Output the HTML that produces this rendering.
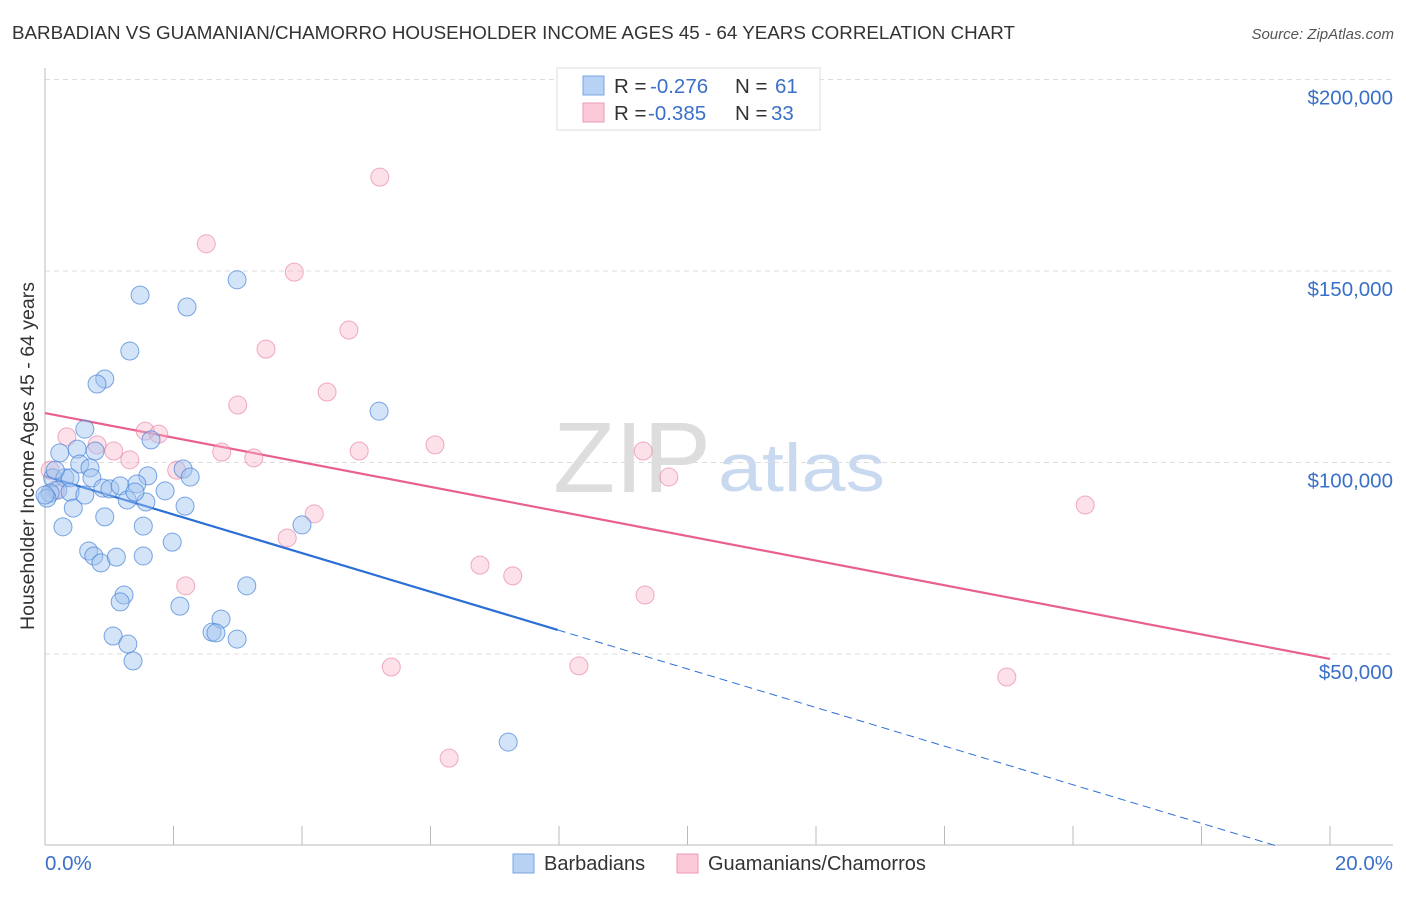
<!DOCTYPE html>
<html><head><meta charset="utf-8"><style>
body{margin:0;background:#fff;font-family:"Liberation Sans",sans-serif}
svg text{font-family:"Liberation Sans",sans-serif}
</style></head><body>
<svg id="c" width="1406" height="892">
<text x="12" y="39" font-size="18.8" fill="#333">BARBADIAN VS GUAMANIAN/CHAMORRO HOUSEHOLDER INCOME AGES 45 - 64 YEARS CORRELATION CHART</text>
<text x="1394" y="39" font-size="15" fill="#555" font-style="italic" text-anchor="end">Source: ZipAtlas.com</text>
<g><text x="553" y="492" font-size="100" fill="#ddd" font-family="Liberation Serif" textLength="158" lengthAdjust="spacingAndGlyphs">ZIP</text><text x="718" y="491" font-size="68" fill="#c9d9f0" textLength="167" lengthAdjust="spacingAndGlyphs">atlas</text></g>
<g id="grid"></g><g id="axes"></g><g id="trend"></g><g id="pts"></g>
<text x="34" y="456" font-size="19.5" fill="#333" text-anchor="middle" transform="rotate(-90 34 456)">Householder Income Ages 45 - 64 years</text>
<text x="45" y="870" font-size="20.5" fill="#3a70c8">0.0%</text>
<text x="1393" y="870" font-size="20.5" fill="#3a70c8" text-anchor="end">20.0%</text>
<g>
<rect x="557" y="68" width="263" height="62" fill="#fff" stroke="#ddd"/>
<rect x="583" y="76" width="21" height="19" fill="#b7d2f5" stroke="#7aa6e0"/>
<rect x="583" y="103" width="21" height="19" fill="#fbc9d8" stroke="#ee9ab5"/>
<text x="614" y="93" font-size="20.5" fill="#333">R = <tspan fill="#3a70c8" x="650">-0.276</tspan><tspan x="735">N = </tspan><tspan fill="#3a70c8" x="775">61</tspan></text>
<text x="614" y="120" font-size="20.5" fill="#333">R = <tspan fill="#3a70c8" x="648">-0.385</tspan><tspan x="735">N = </tspan><tspan fill="#3a70c8" x="771">33</tspan></text>
</g>
<g>
<rect x="513" y="854" width="21" height="19" fill="#b7d2f5" stroke="#7aa6e0"/>
<text x="544" y="870" font-size="20" fill="#333">Barbadians</text>
<rect x="677" y="854" width="21" height="19" fill="#fbc9d8" stroke="#ee9ab5"/>
<text x="708" y="870" font-size="20" fill="#333">Guamanians/Chamorros</text>
</g>
</svg>
<script>
const yTicks=[50000,100000,150000,200000];
const yTickLabels=["$50,000","$100,000","$150,000","$200,000"];
const xTicks=[0,2,4,6,8,10,12,14,16,18,20];
const blueX=[1.48,2.21,2.99,1.32,0.93,0.81,5.20,0.62,0.23,0.50,0.78,1.65,0.54,0.70,0.73,1.60,2.15,2.26,0.12,0.31,0.39,0.20,0.39,0.90,1.01,1.17,1.43,1.87,1.28,1.57,1.40,0.08,0.03,0.44,0.93,2.18,0.28,1.53,4.00,1.98,0.68,0.76,0.87,1.11,1.53,3.14,1.23,1.17,2.10,2.74,2.60,2.66,1.06,1.29,2.99,1.37,7.21,0.0,0.16,0.62];
const blueY=[143700,140600,147700,129100,121800,120500,113400,108700,102500,103500,103000,105900,99600,98600,96000,96500,98300,96200,96000,96000,96000,92800,92300,93300,93100,93900,94400,92600,90200,89700,92300,92000,90700,88100,85800,88600,83200,83400,83700,79200,76900,75600,73800,75300,75600,67800,65400,63600,62500,59100,55700,55500,54700,52600,53900,48200,27000,91500,98000,91500];
const pinkX=[5.21,2.51,3.88,4.73,3.44,4.39,3.00,0.34,0.81,1.56,1.77,1.07,1.32,2.75,3.25,4.89,6.07,9.31,2.05,9.71,16.19,4.19,3.77,2.19,6.77,7.28,9.34,5.39,8.31,14.97,6.29,0.08,0.16];
const pinkY=[174500,157100,149700,134600,129600,118400,115000,106700,104600,108200,107400,103000,100700,102700,101200,103000,104600,103000,98000,96200,88900,86600,80300,67800,73200,70400,65400,46600,46900,44000,22800,98000,92800];
const blueTrend=[96500,-5040];
const pinkTrend=[112900,-3210];
const X=v=>45+v/20*1285, Y=v=>845.5-v/50000*191.5;
const NS="http://www.w3.org/2000/svg";
function mk(t,a,p){const e=document.createElementNS(NS,t);for(const k in a)e.setAttribute(k,a[k]);document.getElementById(p).appendChild(e);return e;}
yTicks.forEach((t,i)=>{
 const g=mk('line',{x1:45,x2:1393,y1:Y(t),y2:Y(t),stroke:'#ddd','stroke-dasharray':'5,4'},'grid');
 
 
 const l=mk('text',{x:1393,y:Y(t)+25,'font-size':20.5,fill:'#3a70c8','text-anchor':'end'},'grid');
 l.textContent=yTickLabels[i];
 
 
});
const ax=mk('line',{x1:45,x2:45,y1:68,y2:845,stroke:'#bbb'},'axes');


const bx=mk('line',{x1:45,x2:1393,y1:845,y2:845,stroke:'#bbb'},'axes');


xTicks.forEach(t=>{const e=mk('line',{x1:X(t),x2:X(t),y1:826,y2:845,stroke:'#bbb'},'axes');
 
 });
const bEnd=7.98, bZero=-blueTrend[0]/blueTrend[1];
let e=mk('line',{x1:X(0),y1:Y(blueTrend[0]),x2:X(bEnd),y2:Y(blueTrend[0]+blueTrend[1]*bEnd),stroke:'#2b6fd6','stroke-width':2.2},'trend');


e=mk('line',{x1:X(bEnd),y1:Y(blueTrend[0]+blueTrend[1]*bEnd),x2:X(bZero),y2:Y(0),stroke:'#2b6fd6','stroke-width':1,'stroke-dasharray':'8,5'},'trend');


e=mk('line',{x1:X(0),y1:Y(pinkTrend[0]),x2:X(20),y2:Y(pinkTrend[0]+pinkTrend[1]*20),stroke:'#e8608c','stroke-width':2.2},'trend');


pinkX.forEach((x,i)=>{const c=mk('circle',{cx:X(x),cy:Y(pinkY[i]),r:9,fill:'rgba(248,180,200,0.4)',stroke:'rgba(232,120,160,0.6)'},'pts');
 
 });
blueX.forEach((x,i)=>{const c=mk('circle',{cx:X(x),cy:Y(blueY[i]),r:9,fill:'rgba(160,195,240,0.45)',stroke:'rgba(70,130,215,0.7)'},'pts');
 
 });
</script>
</body></html>
